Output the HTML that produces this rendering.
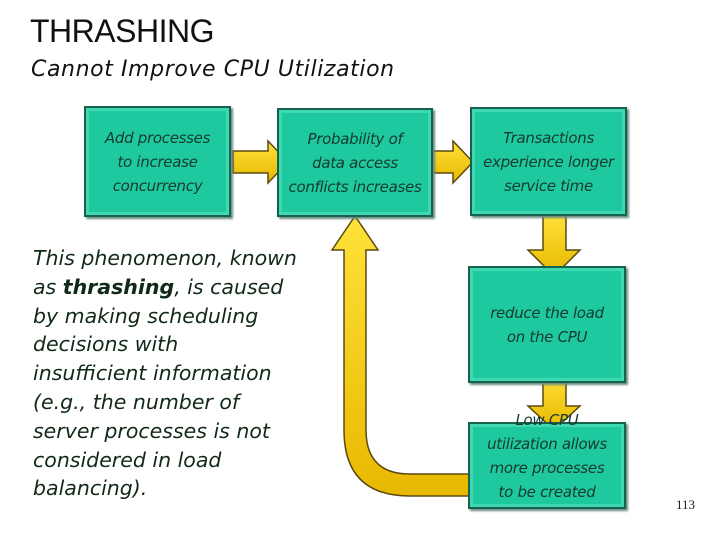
<!DOCTYPE html>
<html><head><meta charset="utf-8"><style>
body{margin:0;width:720px;height:540px;background:#fff;position:relative;overflow:hidden;font-family:"Liberation Sans",sans-serif}
.t{position:absolute;white-space:nowrap}
.box{position:absolute;background:#1fc9a0;border:2px solid #16624f;box-shadow:inset 0 0 0 3px #3fd8b2,2px 2px 2px #6a8a80;display:flex;align-items:center;justify-content:center;text-align:center;font-style:italic;font-family:"DejaVu Sans",sans-serif;font-size:15px;line-height:24px;color:#163a2c;letter-spacing:-0.3px}
</style></head><body>
<div class="t" style="left:30px;top:13px;font-size:32px;color:#111;letter-spacing:-0.5px">THRASHING</div>
<div class="t" style="left:31px;top:57px;font-size:22px;font-style:italic;color:#111;font-family:'DejaVu Sans',sans-serif;letter-spacing:0.6px">Cannot Improve CPU Utilization</div>
<div class="t" style="left:33px;top:244px;font-size:20.5px;line-height:28.8px;font-style:italic;color:#112a18;font-family:'DejaVu Sans',sans-serif">This phenomenon, known<br>as <b>thrashing</b>, is caused<br>by making scheduling<br>decisions with<br>insufficient information<br>(e.g., the number of<br>server processes is not<br>considered in load<br>balancing).</div>
<svg width="720" height="540" style="position:absolute;left:0;top:0">
<defs><linearGradient id="g" x1="0" y1="0" x2="0" y2="1"><stop offset="0" stop-color="#ffe23a"/><stop offset="1" stop-color="#e8b800"/></linearGradient></defs>
<g fill="url(#g)" stroke="#5a4a10" stroke-width="1.5">
<polygon points="233,151 268,151 268,141 288,162 268,183 268,173 233,173"/>
<polygon points="425,151 453,151 453,141 473,162 453,183 453,173 425,173"/>
<polygon points="543,213 566,213 566,250 580,250 554,276 528,250 543,250"/>
<polygon points="543,372 566,372 566,406 580,406 554,430 528,406 543,406"/>
<path d="M478,474 L410,474 Q366,474 366,430 L366,250 L378,250 L355,216 L332,250 L344,250 L344,430 Q344,496 410,496 L478,496 Z"/>
</g>
</svg>
<div class="box" style="left:84px;top:106px;width:143px;height:107px">Add processes<br>to increase<br>concurrency</div>
<div class="box" style="left:277px;top:108px;width:152px;height:105px">Probability of<br>data access<br>conflicts increases</div>
<div class="box" style="left:470px;top:107px;width:153px;height:105px">Transactions<br>experience longer<br>service time</div>
<div class="box" style="left:468px;top:266px;width:154px;height:113px">reduce the load<br>on the CPU</div>
<div class="box" style="left:468px;top:422px;width:154px;height:83px"><div style="position:relative;top:-10px">Low CPU<br>utilization allows<br>more processes<br>to be created</div></div>
<div class="t" style="left:676px;top:497px;font-size:13px;font-family:'Liberation Serif',serif;color:#222">113</div>
</body></html>
